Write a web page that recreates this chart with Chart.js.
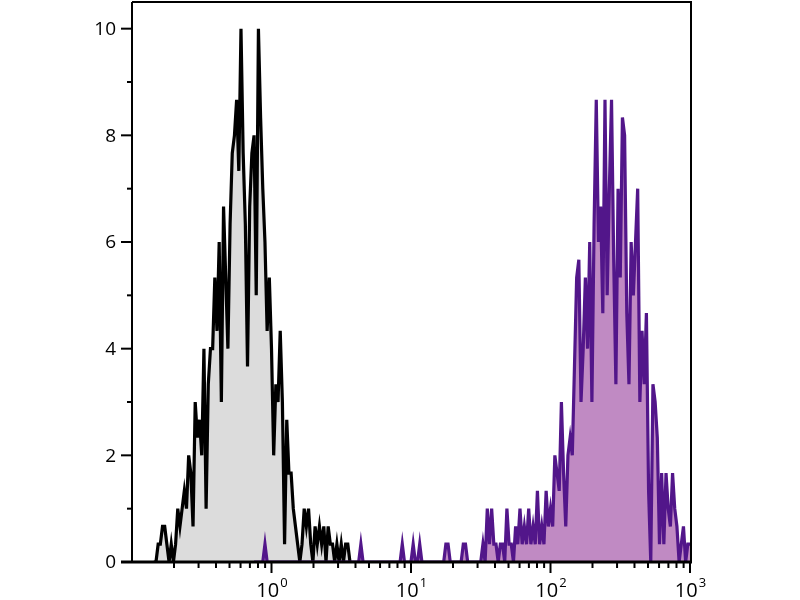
<!DOCTYPE html>
<html>
<head>
<meta charset="utf-8">
<script src="https://cdn.jsdelivr.net/npm/chart.js@4/dist/chart.umd.min.js"></script>
<style>
  html, body { margin: 0; padding: 0; background: #fff; }
</style>
</head>
<body>
<canvas id="chart_canvas" width="800" height="600"></canvas>
<script>
// histogram channels: 64 bins per decade, bin k sits at 10^(k/64)
const binsPerDecade = 64;
const grayStartBin = -54;
const purpleStartBin = -8;
const countsPerUnit = 3;

// unstained control (gray), counts per channel
const grayCounts = [
  0, 0, 1, 1, 2, 2, 1, 0, 1, 0,
  1, 3, 2, 3, 4, 3, 6, 5, 2, 9,
  7, 8, 6, 12, 3, 10, 12, 12, 16, 13,
  18, 9, 20, 16, 12, 19, 23, 24, 26, 22,
  30, 23, 19, 11, 20, 23, 24, 15, 30, 25,
  21, 18, 13, 16, 12, 6, 10, 9, 13, 9,
  1, 8, 5, 5, 3, 2, 1, 0, 1, 3,
  2, 3, 1, 0, 2, 1, 2, 1, 2, 0,
  2, 1, 1, 0, 1, 0, 1, 0, 1, 1,
  0
];

// stained sample (purple), counts per channel
const purpleCounts = [
  0, 0, 0, 0, 0, 1, 0, 0, 0, 0,
  0, 0, 0, 0, 0, 0, 0, 0, 0, 0,
  0, 0, 0, 0, 0, 0, 0, 0, 0, 0,
  0, 0, 0, 0, 0, 0, 0, 0, 0, 0,
  0, 0, 0, 0, 0, 0, 0, 0, 0, 1,
  0, 0, 0, 0, 0, 0, 0, 0, 0, 0,
  0, 0, 0, 0, 0, 0, 0, 0, 1, 0,
  0, 0, 0, 1, 0, 0, 1, 0, 0, 0,
  0, 0, 0, 0, 0, 0, 0, 0, 1, 1,
  0, 0, 0, 0, 0, 0, 1, 1, 0, 0,
  0, 0, 0, 0, 0, 1, 0, 3, 1, 3,
  1, 1, 0, 1, 1, 0, 3, 1, 1, 0,
  2, 1, 3, 1, 2, 1, 3, 1, 2, 1,
  4, 1, 2, 1, 4, 2, 3, 2, 6, 5,
  4, 9, 5, 2, 6, 7, 6, 11, 16, 17,
  9, 12, 16, 12, 18, 9, 19, 26, 18, 20,
  14, 26, 15, 21, 26, 17, 10, 21, 16, 25,
  24, 14, 10, 18, 15, 18, 21, 9, 13, 10,
  14, 4, 0, 10, 9, 7, 1, 5, 1, 5,
  3, 2, 5, 3, 2, 0, 1, 2, 0, 1,
  1
];

const xTickValues = [1, 10, 100, 1000];
const xTickExponents = ['0', '1', '2', '3'];
const yTickValues = [0, 2, 4, 6, 8, 10];

function toPoints(counts, startBin) {
  return counts.map((c, i) => ({
    x: Math.pow(10, (startBin + i) / binsPerDecade),
    y: c / countsPerUnit
  }));
}

// spines, ticks and labels drawn on top of the fills like the original
const axisFrame = {
  id: 'axisFrame',
  afterDatasetsDraw(chart) {
    const ctx = chart.ctx;
    const area = chart.chartArea;
    const xs = chart.scales.x;
    const ys = chart.scales.y;

    ctx.save();
    ctx.strokeStyle = '#000';
    ctx.lineCap = 'butt';

    ctx.lineWidth = 2;
    ctx.beginPath();
    ctx.moveTo(area.left, area.top);
    ctx.lineTo(area.right + 2, area.top);
    ctx.moveTo(area.right + 1, area.top);
    ctx.lineTo(area.right + 1, area.bottom);
    ctx.moveTo(area.left, area.top);
    ctx.lineTo(area.left, area.bottom);
    ctx.stroke();

    // y ticks, long on even values
    for (let v = 0; v <= 10; v++) {
      const py = ys.getPixelForValue(v);
      const len = v % 2 === 0 ? 11 : 5;
      ctx.beginPath();
      ctx.moveTo(area.left - len, py);
      ctx.lineTo(area.left, py);
      ctx.stroke();
    }

    // x ticks, long on decades
    for (let d = -1; d <= 2; d++) {
      for (let m = 1; m <= 9; m++) {
        const v = m * Math.pow(10, d);
        if (d === -1 && m === 1) continue;
        const px = xs.getPixelForValue(v);
        const len = m === 1 ? 11 : 6;
        ctx.beginPath();
        ctx.moveTo(px, area.bottom);
        ctx.lineTo(px, area.bottom + len);
        ctx.stroke();
      }
    }
    const pEnd = xs.getPixelForValue(1000);
    ctx.beginPath();
    ctx.moveTo(pEnd, area.bottom);
    ctx.lineTo(pEnd, area.bottom + 11);
    ctx.stroke();

    ctx.lineWidth = 3;
    ctx.beginPath();
    ctx.moveTo(area.left - 11, area.bottom);
    ctx.lineTo(area.right + 2, area.bottom);
    ctx.stroke();

    ctx.fillStyle = '#000';
    ctx.font = '19px "Open Sans"';
    ctx.textAlign = 'right';
    ctx.textBaseline = 'middle';
    yTickValues.forEach((v) => {
      ctx.fillText(String(v), area.left - 16, ys.getPixelForValue(v) + 1);
    });

    ctx.textAlign = 'left';
    ctx.textBaseline = 'alphabetic';
    xTickValues.forEach((v, i) => {
      const px = xs.getPixelForValue(v);
      ctx.font = '20px "Open Sans"';
      const wb = ctx.measureText('10').width;
      ctx.font = '13px "Open Sans"';
      const we = ctx.measureText(xTickExponents[i]).width;
      const x0 = px - (wb + we) / 2;
      ctx.font = '20px "Open Sans"';
      ctx.fillText('10', x0, 597);
      ctx.font = '13px "Open Sans"';
      ctx.fillText(xTickExponents[i], x0 + wb + 1, 587);
    });
    ctx.restore();
  }
};

const ctx = document.getElementById('chart_canvas');
const histChart = new Chart(ctx, { // eslint-disable-line no-unused-vars
  type: 'line',
  data: {
    datasets: [{
      label: 'Stained',
      data: toPoints(purpleCounts, purpleStartBin),
      borderColor: '#52168a',
      backgroundColor: '#c08ac3',
      borderWidth: 3.2,
      fill: 'origin'
    }, {
      label: 'Control',
      data: toPoints(grayCounts, grayStartBin),
      borderColor: '#000000',
      backgroundColor: '#dcdcdc',
      borderWidth: 3.2,
      fill: 'origin'
    }]
  },
  options: {
    responsive: false,
    animation: false,
    layout: { padding: { left: 132, right: 110, top: 2, bottom: 38 } },
    elements: { point: { radius: 0 }, line: { tension: 0 } },
    plugins: { legend: { display: false }, tooltip: { enabled: false } },
    scales: {
      x: { type: 'logarithmic', min: 0.1, max: 1000, display: false },
      y: { type: 'linear', min: 0, max: 10.5, display: false }
    }
  },
  plugins: [axisFrame]
});
</script>
</body>
</html>
